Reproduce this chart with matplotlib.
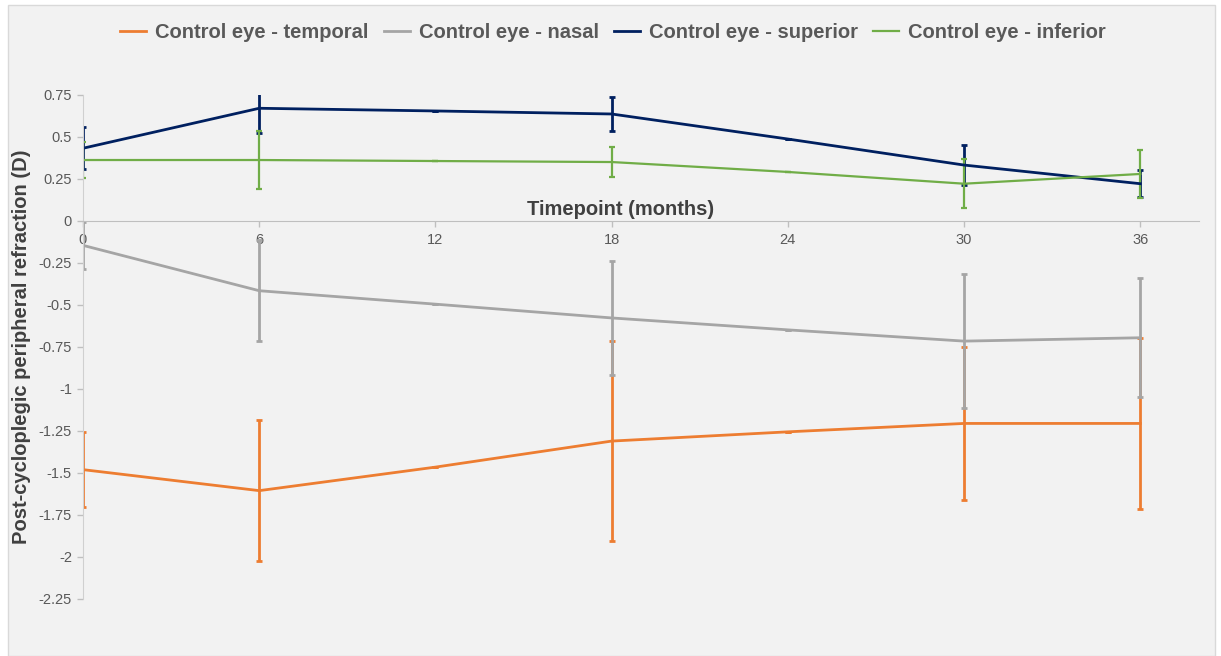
import matplotlib.pyplot as plt
from matplotlib.patches import Rectangle
from matplotlib.lines import Line2D

# timepoints (months)
months = [0, 6, 12, 18, 24, 30, 36]

# mean post-cycloplegic peripheral refraction (D) and error bar half-widths
temporal = [-1.48, -1.605, -1.465, -1.31, -1.255, -1.205, -1.205]
temporal_err = [0.225, 0.42, 0, 0.595, 0, 0.455, 0.51]
nasal = [-0.145, -0.415, -0.495, -0.577, -0.648, -0.715, -0.695]
nasal_err = [0.14, 0.30, 0, 0.34, 0, 0.40, 0.355]
superior = [0.433, 0.671, 0.655, 0.637, 0.488, 0.333, 0.222]
superior_err = [0.125, 0.15, 0, 0.10, 0, 0.12, 0.08]
inferior = [0.363, 0.363, 0.357, 0.351, 0.292, 0.222, 0.28]
inferior_err = [0.105, 0.17, 0, 0.09, 0, 0.145, 0.143]

labels = ['Control eye - temporal', 'Control eye - nasal',
          'Control eye - superior', 'Control eye - inferior']
colors = ['#ED7D31', '#A5A5A5', '#002060', '#70AD47']
widths = [2.0, 2.0, 2.0, 1.6]

plt.rcParams['font.family'] = ['Liberation Sans', 'DejaVu Sans']

W, H = 1221, 656
fig = plt.figure(figsize=(W / 100, H / 100), dpi=100, facecolor='white')
fig.patches.append(Rectangle((8 / W, 0), (1215 - 8) / W, 1 - 5 / H,
                             transform=fig.transFigure, facecolor='#F2F2F2',
                             edgecolor='#D9D9D9', linewidth=1, zorder=-10))

ax = fig.add_axes([83 / W, 1 - 599 / H, (1199 - 83) / W, (599 - 95) / H])
ax.set_facecolor('none')
ax.set_zorder(1)

series = [(temporal, temporal_err), (nasal, nasal_err),
          (superior, superior_err), (inferior, inferior_err)]
for (vals, errs), c, lw in zip(series, colors, widths):
    ax.errorbar(months, vals, yerr=errs, color=c, linewidth=lw, elinewidth=lw,
                capsize=2, capthick=lw)

ax.set_xlim(0, 38)
ax.set_ylim(-2.25, 0.75)
ax.set_xticks(months)
ax.set_yticks([0.75, 0.5, 0.25, 0, -0.25, -0.5, -0.75, -1, -1.25, -1.5, -1.75, -2, -2.25])
ax.set_yticklabels(['0.75', '0.5', '0.25', '0', '-0.25', '-0.5', '-0.75', '-1',
                    '-1.25', '-1.5', '-1.75', '-2', '-2.25'])

ax.spines['top'].set_visible(False)
ax.spines['right'].set_visible(False)
ax.spines['bottom'].set_position(('data', 0))
ax.spines['bottom'].set_color('#BFBFBF')
ax.spines['left'].set_color('#D0D0D0')
ax.tick_params(axis='both', colors='#BFBFBF', labelcolor='#595959',
               labelsize=10.5, length=4, width=1)
ax.tick_params(axis='x', pad=5)
ax.tick_params(axis='y', pad=4)

ax.text(18.3, 0.07, 'Timepoint (months)', ha='center', va='center',
        fontsize=14.5, fontweight='bold', color='#404040')
fig.text(22 / W, 1 - 347 / H, 'Post-cycloplegic peripheral refraction (D)',
         rotation=90, ha='center', va='center', fontsize=14.5,
         fontweight='bold', color='#404040')

handles = [Line2D([], [], color=c, linewidth=lw) for c, lw in zip(colors, widths)]
fig.legend(handles, labels, loc='center', bbox_to_anchor=(613 / W, 1 - 33 / H),
           ncol=4, frameon=False, handlelength=1.3, columnspacing=0.75,
           handletextpad=0.45, prop={'size': 14.5, 'weight': 'bold'},
           labelcolor='#595959')

plt.savefig('out.png', dpi=100, facecolor=fig.get_facecolor())
